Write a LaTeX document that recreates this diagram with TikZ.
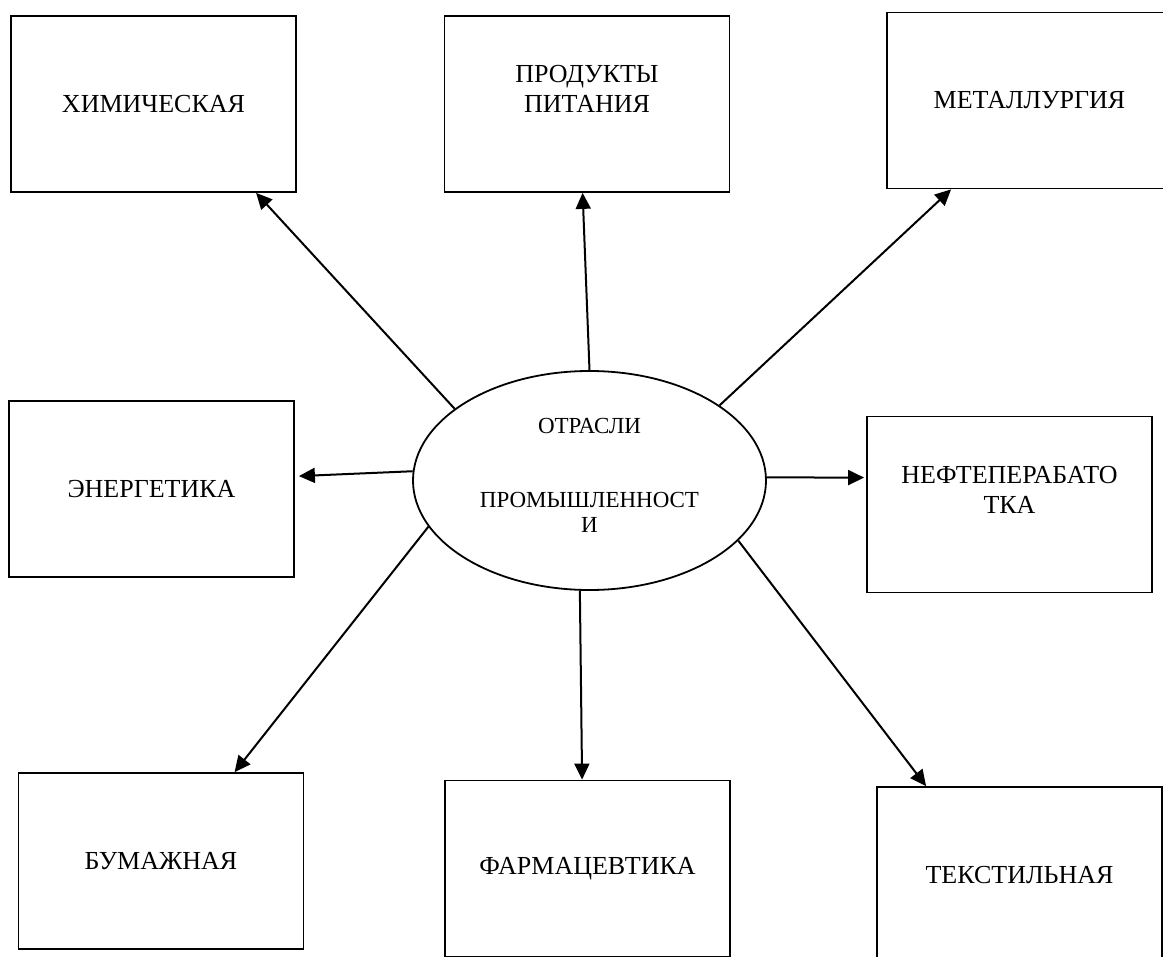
\documentclass[tikz,border=0pt]{standalone}
\usepackage{fontspec}
\setmainfont{Liberation Serif}
\usetikzlibrary{arrows.meta,calc,shapes.geometric}
\begin{document}
\begin{tikzpicture}[x=1pt,y=-1pt,
  sector/.style={draw, line width=1.8pt, rectangle, minimum width=285pt,
    minimum height=176pt, inner sep=0pt, align=center,
    font=\fontsize{26}{30}\selectfont},
  hub/.style={draw, ellipse, line width=1.8pt, minimum width=353pt,
    minimum height=219pt, inner sep=0pt, align=center,
    font=\fontsize{23}{25}\selectfont},
  link/.style={line width=2pt, -{Triangle[length=16pt,width=15pt]}}]

\useasboundingbox (0,0) rectangle (1163,957);
\clip (0,0) rectangle (1163,957);

% central ellipse (extra depth on the last line lifts the text block a little)
\node[hub] (e) at (589.5,480.5)
  {ОТРАСЛИ\\[49pt]ПРОМЫШЛЕННОСТ\\\raisebox{0pt}[\height][10pt]{И}};

% industry boxes
\node[sector] (chem)  at (153.5,104)   {ХИМИЧЕСКАЯ};
\node[sector] (food)  at (587,104)     {ПРОДУКТЫ\\ПИТАНИЯ\\\mbox{}};
\node[sector] (met)   at (1029.5,100.5){МЕТАЛЛУРГИЯ};
\node[sector] (en)    at (151.5,489)   {ЭНЕРГЕТИКА};
\node[sector] (oil)   at (1009.5,504.5){НЕФТЕПЕРАБАТО\\ТКА\\\mbox{}};
\node[sector] (paper) at (161,861)     {БУМАЖНАЯ};
\node[sector] (pharm) at (587.5,868.5) {ФАРМАЦЕВТИКА};
\node[sector] (tex)   at (1019.5,875)  {ТЕКСТИЛЬНАЯ};

% arrows from the centre to each box
\draw[link] (e.152) -- ($(chem.south west)+(246,0)$);
\draw[link] (e.90.5) -- ($(food.south west)+(139,0)$);
\draw[link] (e.30.6) -- ($(met.south west)+(65,0)$);
\draw[link] (e.177.7) -- ($(en.north east)+(4,76)$);
\draw[link] (e.1) -- ($(oil.north west)+(-2,62)$);
\draw[link] (e.196) -- ($(paper.north west)+(217,0)$);
\draw[link] (e.265) -- ($(pharm.north west)+(138,0)$);
\draw[link] (e.-22) -- ($(tex.north west)+(50,0)$);
\end{tikzpicture}
\end{document}
